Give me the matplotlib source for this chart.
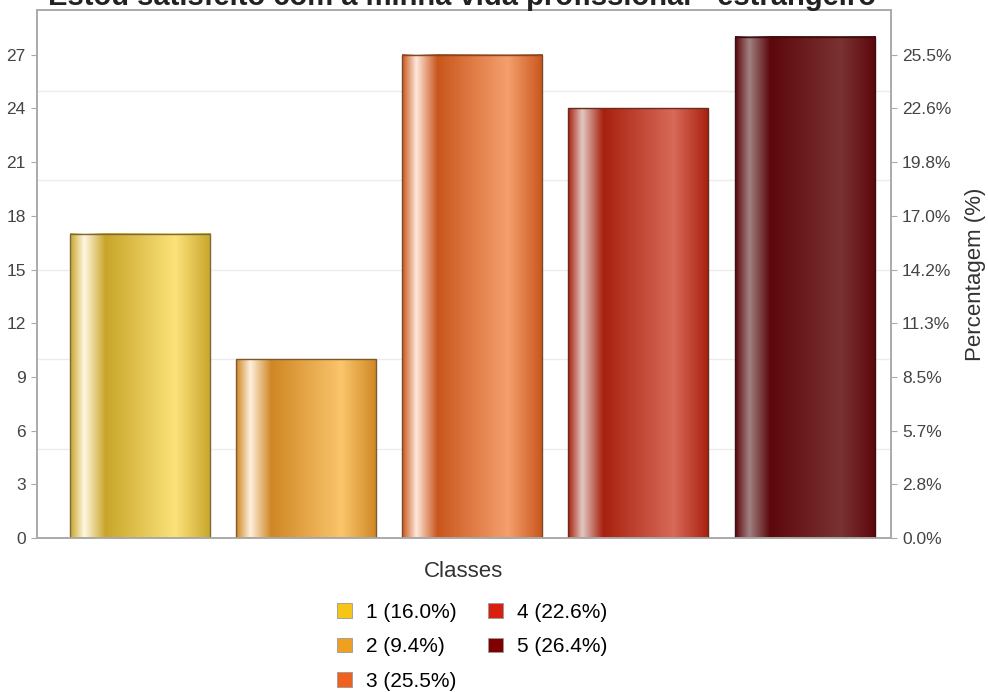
import numpy as np
import matplotlib.pyplot as plt
from matplotlib.colors import LinearSegmentedColormap
from matplotlib.patches import Patch

plt.rcParams['font.family'] = ['Liberation Sans', 'DejaVu Sans']

# data
classes = ["1", "2", "3", "4", "5"]
counts = [17, 10, 27, 24, 28]
title = "Estou satisfeito com a minha vida profissional - estrangeiro"

# colours per bar: (dark, light, highlight), legend colour
bar_dark = ["#c9a62a", "#cf8724", "#c9561c", "#a8200f", "#5c070c"]
bar_light = ["#fbe27a", "#fac56c", "#f5a06e", "#d86a58", "#7a3232"]
bar_high = ["#fff8e2", "#fff0dc", "#ffe8dc", "#e2c8c2", "#a08282"]
bar_edge = ["#7d6a3a", "#7d5a30", "#7a4a30", "#6a2a20", "#3a1010"]
legend_colors = ["#f5c518", "#f0a020", "#f06020", "#d82010", "#800000"]

total = sum(counts)
pcts = [c / total * 100 for c in counts]

fig = plt.figure(figsize=(9.88, 6.92), dpi=100)
ax = fig.add_axes([0.0374, 0.2225, 0.8644, 0.763])

x = np.arange(len(counts))
width = 0.843
grad = np.linspace(0, 1, 256).reshape(1, -1)
for i, h in enumerate(counts):
    cmap = LinearSegmentedColormap.from_list(
        "b%d" % i,
        [(0.0, bar_dark[i]), (0.1, bar_high[i]), (0.25, bar_dark[i]),
         (0.75, bar_light[i]), (1.0, bar_dark[i])])
    ax.imshow(grad, cmap=cmap, aspect='auto', zorder=2,
              extent=(x[i] - width / 2, x[i] + width / 2, 0, h))
    ax.bar(x[i], h, width=width, facecolor='none', edgecolor=bar_edge[i],
           linewidth=1, zorder=3)

ax.set_xlim(-0.62, 4.52)
ax.set_ylim(0, 29.5)
ax.set_yticks(range(0, 28, 3))
for g in range(5, 30, 5):
    ax.axhline(g, color='#ececec', lw=1, zorder=0)
ax.set_xticks(x)
ax.set_xticklabels([])
ax.tick_params(axis='x', direction='in', length=3, color='#999999')
ax.tick_params(axis='y', length=4, color='#aaaaaa', labelsize=12.5,
               labelcolor='#444444', pad=4)
for s in ax.spines.values():
    s.set_color('#aaaaaa')
    s.set_linewidth(1.2)
ax.set_xlabel("Classes", fontsize=16, color='#333333', labelpad=13)

ax2 = ax.twinx()
ax2.set_ylim(ax.get_ylim())
ax2.set_yticks(range(0, 28, 3))
ax2.set_yticklabels(["%.1f%%" % (v / total * 100) for v in range(0, 28, 3)])
ax2.tick_params(axis='y', length=4, color='#aaaaaa', labelsize=12.5,
                labelcolor='#444444', pad=4)
for s in ax2.spines.values():
    s.set_color('#aaaaaa')
    s.set_linewidth(1.2)
ax2.set_ylabel("Percentagem (%)", fontsize=16, color='#333333', labelpad=10)

fig.text(0.468, 1 - 5 / 692, title, ha='center', va='baseline',
         fontsize=21, fontweight='bold', color='#222222')

handles = [Patch(facecolor=c, edgecolor='#999999', linewidth=0.6)
           for c in legend_colors]
labels = ["%s (%.1f%%)" % (k, p) for k, p in zip(classes, pcts)]
fig.legend(handles, labels, ncol=2, frameon=False, loc='upper center',
           bbox_to_anchor=(0.478, 0.144), fontsize=15,
           handlelength=0.7, handleheight=0.7, handletextpad=0.7,
           columnspacing=1.5, labelspacing=0.75, borderpad=0)

fig.savefig("out.png", dpi=100)
